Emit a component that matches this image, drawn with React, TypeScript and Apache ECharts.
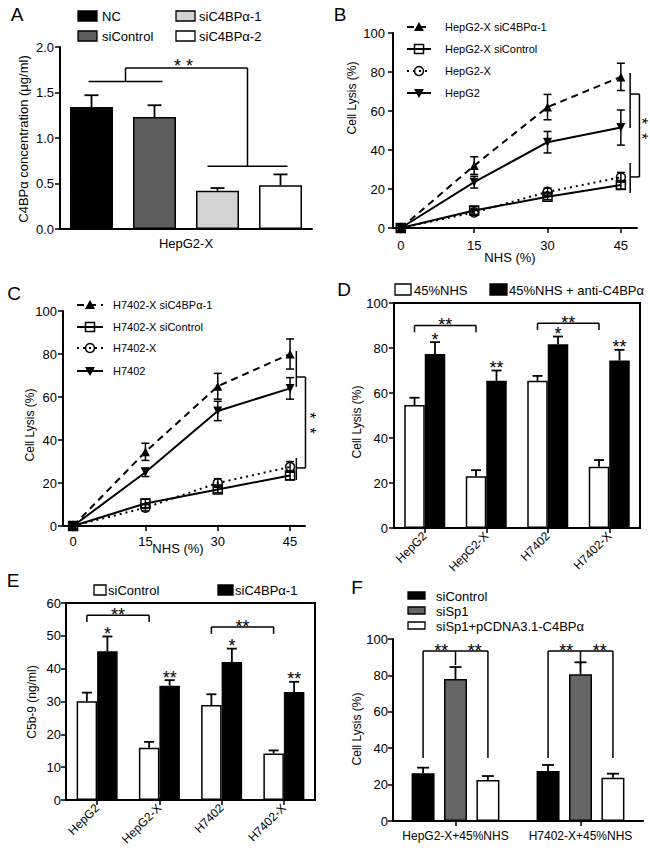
import React, { useEffect, useRef } from "react";
import * as echarts from "echarts";

const FONT = "'Liberation Sans', Arial, Helvetica, sans-serif";

// ---------- Panel A ----------
const aCategories = ["HepG2-X"];
const aSeriesNames = ["NC", "siControl", "siC4BPα-1", "siC4BPα-2"];
const aMeans = [1.34, 1.23, 0.42, 0.48];
const aErrors = [0.13, 0.13, 0.03, 0.12];
const aColors = ["#000000", "#5e5e5e", "#d3d3d3", "#ffffff"];

// ---------- Panels B and C (x = NHS %) ----------
const nhsLevels = [0, 15, 30, 45];

const bNames = ["HepG2-X siC4BPα-1", "HepG2-X siControl", "HepG2-X", "HepG2"];
const bSiC4BP = [0, 32, 62, 77.5];
const bSiC4BPErr = [0, 4.5, 6.5, 7];
const bSiControl = [0, 9, 16, 22];
const bSiControlErr = [0, 2, 1.5, 2];
const bX = [0, 8, 18.5, 26];
const bXErr = [0, 1.5, 2, 2.5];
const bParent = [0, 23.5, 44, 51.5];
const bParentErr = [0, 3, 5.5, 9];

const cNames = ["H7402-X siC4BPα-1", "H7402-X siControl", "H7402-X", "H7402"];
const cSiC4BP = [0, 34.5, 65, 80];
const cSiC4BPErr = [0, 4, 6, 7];
const cSiControl = [0, 10.5, 17, 23.5];
const cSiControlErr = [0, 2, 1.5, 2];
const cX = [0, 8.5, 20, 27.5];
const cXErr = [0, 1.5, 2, 2.5];
const cParent = [0, 25, 53.5, 64];
const cParentErr = [0, 2, 4.5, 5];

// ---------- Panel D ----------
const cellLines = ["HepG2", "HepG2-X", "H7402", "H7402-X"];
const dNames = ["45%NHS", "45%NHS + anti-C4BPα"];
const dNHS = [54.7, 23, 65.4, 27.2];
const dNHSErr = [3.2, 2.7, 2.2, 3];
const dAnti = [77.3, 65.4, 81.7, 74.4];
const dAntiErr = [5.3, 4.6, 3.4, 4.8];
const dSig = ["*", "**", "*", "**"];

// ---------- Panel E ----------
const eNames = ["siControl", "siC4BPα-1"];
const eSiControl = [30.1, 15.9, 28.9, 14.2];
const eSiControlErr = [2.6, 1.8, 3.3, 0.9];
const eSiC4BP = [45.3, 34.8, 42, 32.9];
const eSiC4BPErr = [4.5, 1.7, 4.1, 3.1];
const eSig = ["*", "**", "*", "**"];

// ---------- Panel F ----------
const fCategories = ["HepG2-X+45%NHS", "H7402-X+45%NHS"];
const fNames = ["siControl", "siSp1", "siSp1+pCDNA3.1-C4BPα"];
const fSiControl = [26.2, 27.5];
const fSiControlErr = [3.1, 3.3];
const fSiSp1 = [78, 80.6];
const fSiSp1Err = [6.6, 6.6];
const fRescue = [22.5, 23.8];
const fRescueErr = [2.2, 2.2];
const fColors = ["#000000", "#666666", "#ffffff"];

// ---------- helpers ----------
function barOffsets(n: number, width: number, gap: number): number[] {
  const pitch = width * (1 + gap);
  return Array.from({ length: n }, (_, i) => (i - (n - 1) / 2) * pitch);
}

function errorSeries(gi: number, xs: number[], means: number[], errs: number[], offset: number, cap: number, both: boolean, lw: number) {
  const data = means.map((m, i) => [xs[i], m, errs[i]]).filter((d) => d[2] > 0);
  return {
    type: "custom",
    xAxisIndex: gi,
    yAxisIndex: gi,
    z: 6,
    silent: true,
    data,
    encode: { x: 0, y: 1 },
    renderItem: (_params: any, api: any) => {
      const x = api.value(0);
      const y = api.value(1);
      const e = api.value(2);
      const top = api.coord([x, y + e]);
      const bot = api.coord([x, both ? y - e : y]);
      const cx = top[0] + offset;
      const st = { stroke: "#000", lineWidth: lw };
      const children: any[] = [
        { type: "line", shape: { x1: cx, y1: top[1], x2: cx, y2: bot[1] }, style: st },
        { type: "line", shape: { x1: cx - cap / 2, y1: top[1], x2: cx + cap / 2, y2: top[1] }, style: st },
      ];
      if (both) children.push({ type: "line", shape: { x1: cx - cap / 2, y1: bot[1], x2: cx + cap / 2, y2: bot[1] }, style: st });
      return { type: "group", children };
    },
  };
}

type Kind = { symbol: string; rotate: number; fill: string; dash: any };
const KIND_SI: Kind = { symbol: "triangle", rotate: 0, fill: "#000", dash: [7, 5] };
const KIND_CTRL: Kind = { symbol: "rect", rotate: 0, fill: "none", dash: "solid" };
const KIND_X: Kind = { symbol: "circle", rotate: 0, fill: "none", dash: [2, 4] };
const KIND_PAR: Kind = { symbol: "triangle", rotate: 180, fill: "#000", dash: "solid" };

function lineSeries(gi: number, name: string, ys: number[], k: Kind) {
  return {
    type: "line",
    name,
    xAxisIndex: gi,
    yAxisIndex: gi,
    data: nhsLevels.map((x, i) => [x, ys[i]]),
    symbol: k.symbol,
    symbolSize: 9,
    symbolRotate: k.rotate,
    showSymbol: true,
    silent: true,
    z: 4,
    itemStyle: {
      color: k.fill === "none" ? "rgba(255,255,255,0)" : "#000",
      borderColor: "#000",
      borderWidth: k.fill === "none" ? 1.5 : 0,
    },
    lineStyle: { color: "#000", width: 2, type: k.dash },
  };
}

function barSeries(gi: number, name: string, vals: number[], color: string, width: number, gap: string) {
  return {
    type: "bar",
    name,
    xAxisIndex: gi,
    yAxisIndex: gi,
    data: vals,
    barWidth: width,
    barGap: gap,
    silent: true,
    z: 3,
    itemStyle: { color, borderColor: "#000", borderWidth: 1.5 },
  };
}

const axisLine = { show: true, onZero: false, lineStyle: { color: "#000", width: 2 } };
const tick = (extra: any = {}) => ({ show: true, length: 5, lineStyle: { color: "#000", width: 1.5 }, ...extra });
const lab = (fs: number, extra: any = {}) => ({ color: "#000", fontSize: fs, fontFamily: FONT, ...extra });

function yAxis(gi: number, max: number, interval: number, margin: number, fmt?: (v: number) => string) {
  return {
    type: "value",
    gridIndex: gi,
    min: 0,
    max,
    interval,
    splitLine: { show: false },
    axisLine,
    axisTick: tick(),
    axisLabel: lab(13, { margin, formatter: fmt }),
  };
}

export default function App() {
  const ref = useRef<HTMLDivElement>(null);

  useEffect(() => {
    if (!ref.current) return;
    const chart = echarts.init(ref.current, undefined, { renderer: "svg" });

    const aOff = barOffsets(4, 43, 0.465);
    const dOff = barOffsets(2, 20.5, 0);
    const fOff = barOffsets(3, 23, 0.41);
    const catIdx4 = [0, 1, 2, 3];
    const catIdx2 = [0, 1];

    const option: any = {
      animation: false,
      backgroundColor: "#ffffff",
      textStyle: { fontFamily: FONT },
      grid: [
        { left: 60, top: 47, width: 252, height: 182 },
        { left: 393, top: 33, width: 244, height: 195 },
        { left: 63, top: 311, width: 242, height: 215 },
        { left: 394, top: 303, width: 246, height: 225, show: true, borderColor: "#000", borderWidth: 2 },
        { left: 66, top: 603, width: 249, height: 197, show: true, borderColor: "#000", borderWidth: 2 },
        { left: 393, top: 639, width: 250, height: 182 },
      ],
      xAxis: [
        { type: "category", gridIndex: 0, data: aCategories, axisLine, axisTick: { show: false }, axisLabel: lab(13, { margin: 8 }) },
        {
          type: "value", gridIndex: 1, min: -1.6, max: 48.3, splitLine: { show: false }, axisLine,
          axisTick: tick({ customValues: nhsLevels }), axisLabel: lab(13, { margin: 11, customValues: nhsLevels }),
        },
        {
          type: "value", gridIndex: 2, min: -2.1, max: 48.1, splitLine: { show: false }, axisLine,
          axisTick: tick({ customValues: nhsLevels }), axisLabel: lab(13, { margin: 9, customValues: nhsLevels }),
        },
        { type: "category", gridIndex: 3, data: cellLines, axisLine, axisTick: tick({ alignWithLabel: true }), axisLabel: lab(12, { rotate: 45, margin: 6, interval: 0 }) },
        { type: "category", gridIndex: 4, data: cellLines, axisLine, axisTick: tick({ alignWithLabel: true }), axisLabel: lab(12, { rotate: 45, margin: 6, interval: 0 }) },
        { type: "category", gridIndex: 5, data: fCategories, axisLine, axisTick: tick({ alignWithLabel: true }), axisLabel: lab(12, { margin: 9, interval: 0 }) },
      ],
      yAxis: [
        yAxis(0, 2, 0.5, 6, (v: number) => v.toFixed(1)),
        yAxis(1, 100, 20, 8),
        yAxis(2, 100, 20, 6),
        yAxis(3, 100, 20, 6),
        yAxis(4, 60, 10, 5),
        yAxis(5, 100, 20, 5),
      ],
      series: [
        // A
        ...aSeriesNames.map((n, i) => barSeries(0, n, [aMeans[i]], aColors[i], 43, "46.5%")),
        ...aSeriesNames.map((_, i) => errorSeries(0, [0], [aMeans[i]], [aErrors[i]], aOff[i], 14, false, 1.8)),
        // B
        lineSeries(1, bNames[0], bSiC4BP, KIND_SI),
        lineSeries(1, bNames[1], bSiControl, KIND_CTRL),
        lineSeries(1, bNames[2], bX, KIND_X),
        lineSeries(1, bNames[3], bParent, KIND_PAR),
        errorSeries(1, nhsLevels, bSiC4BP, bSiC4BPErr, 0, 8, true, 1.5),
        errorSeries(1, nhsLevels, bSiControl, bSiControlErr, 0, 8, true, 1.5),
        errorSeries(1, nhsLevels, bX, bXErr, 0, 8, true, 1.5),
        errorSeries(1, nhsLevels, bParent, bParentErr, 0, 8, true, 1.5),
        // C
        lineSeries(2, cNames[0], cSiC4BP, KIND_SI),
        lineSeries(2, cNames[1], cSiControl, KIND_CTRL),
        lineSeries(2, cNames[2], cX, KIND_X),
        lineSeries(2, cNames[3], cParent, KIND_PAR),
        errorSeries(2, nhsLevels, cSiC4BP, cSiC4BPErr, 0, 8, true, 1.5),
        errorSeries(2, nhsLevels, cSiControl, cSiControlErr, 0, 8, true, 1.5),
        errorSeries(2, nhsLevels, cX, cXErr, 0, 8, true, 1.5),
        errorSeries(2, nhsLevels, cParent, cParentErr, 0, 8, true, 1.5),
        // D
        barSeries(3, dNames[0], dNHS, "#ffffff", 20.5, "0%"),
        barSeries(3, dNames[1], dAnti, "#000000", 20.5, "0%"),
        errorSeries(3, catIdx4, dNHS, dNHSErr, dOff[0], 10, false, 1.8),
        errorSeries(3, catIdx4, dAnti, dAntiErr, dOff[1], 10, false, 1.8),
        // E
        barSeries(4, eNames[0], eSiControl, "#ffffff", 20.5, "0%"),
        barSeries(4, eNames[1], eSiC4BP, "#000000", 20.5, "0%"),
        errorSeries(4, catIdx4, eSiControl, eSiControlErr, dOff[0], 10, false, 1.8),
        errorSeries(4, catIdx4, eSiC4BP, eSiC4BPErr, dOff[1], 10, false, 1.8),
        // F
        barSeries(5, fNames[0], fSiControl, fColors[0], 23, "41%"),
        barSeries(5, fNames[1], fSiSp1, fColors[1], 23, "41%"),
        barSeries(5, fNames[2], fRescue, fColors[2], 23, "41%"),
        errorSeries(5, catIdx2, fSiControl, fSiControlErr, fOff[0], 12, false, 1.8),
        errorSeries(5, catIdx2, fSiSp1, fSiSp1Err, fOff[1], 12, false, 1.8),
        errorSeries(5, catIdx2, fRescue, fRescueErr, fOff[2], 12, false, 1.8),
      ],
    };

    chart.setOption(option);

    // ---------- overlay: legends, titles, annotations ----------
    const g: any[] = [];
    const P = (gi: number, x: number, y: number): number[] => chart.convertToPixel({ gridIndex: gi } as any, [x, y]) as any;
    const line = (x1: number, y1: number, x2: number, y2: number, w = 1.5, dash: any = null) =>
      g.push({ type: "line", silent: true, z: 10, shape: { x1, y1, x2, y2 }, style: { stroke: "#000", lineWidth: w, lineDash: dash } });
    const text = (s: string, x: number, y: number, fs: number, opts: any = {}) =>
      g.push({
        type: "text", silent: true, z: 10, x, y, rotation: opts.rotation || 0,
        style: { text: s, fill: "#000", fontSize: fs, fontFamily: FONT, align: opts.align || "center", verticalAlign: "middle" },
      });
    const rect = (x: number, y: number, w: number, h: number, fill: string) =>
      g.push({ type: "rect", silent: true, z: 10, shape: { x, y, width: w, height: h }, style: { fill, stroke: "#000", lineWidth: 1.3 } });
    const STAR = 18;
    const star = (s: string, x: number, yc: number) => text(s, x, yc + 0.225 * STAR, STAR);
    // two asterisks reading downwards (rotated text); glyphs sit right of the anchor after rotation
    const VSTAR = 16;
    const starsDown = (xc: number, yc: number) => text("*  *", xc - 0.225 * VSTAR, yc, VSTAR, { rotation: -Math.PI / 2 });
    const legendSym = (x1: number, x2: number, y: number, k: Kind) => {
      line(x1, y, x2, y, 2, k.dash === "solid" ? null : k.dash);
      const cx = (x1 + x2) / 2;
      if (k.symbol === "triangle" && k.rotate === 0)
        g.push({ type: "polygon", silent: true, z: 11, shape: { points: [[cx, y - 5], [cx + 5, y + 4], [cx - 5, y + 4]] }, style: { fill: "#000" } });
      else if (k.symbol === "triangle")
        g.push({ type: "polygon", silent: true, z: 11, shape: { points: [[cx - 5, y - 4], [cx + 5, y - 4], [cx, y + 5]] }, style: { fill: "#000" } });
      else if (k.symbol === "rect")
        g.push({ type: "rect", silent: true, z: 11, shape: { x: cx - 4.5, y: y - 4.5, width: 9, height: 9 }, style: { fill: "none", stroke: "#000", lineWidth: 1.5 } });
      else
        g.push({ type: "circle", silent: true, z: 11, shape: { cx, cy: y, r: 4.5 }, style: { fill: "none", stroke: "#000", lineWidth: 1.5 } });
    };
    const rot = { rotation: Math.PI / 2 };

    // panel letters
    text("A", 17, 14, 19);
    text("B", 340, 14, 19);
    text("C", 14, 293, 19);
    text("D", 344, 289, 19);
    text("E", 13, 580, 19);
    text("F", 357, 587, 19);

    // axis titles
    text("C4BPα concentration (μg/ml)", 23, 139, 13, rot);
    text("Cell Lysis (%)", 352, 98, 12, rot);
    text("NHS (%)", 510, 257, 13);
    text("Cell Lysis (%)", 30, 425, 12, rot);
    text("NHS (%)", 178, 548, 13);
    text("Cell Lysis (%)", 357, 422, 12, rot);
    text("C5b-9 (ng/ml)", 32, 702, 12, rot);
    text("Cell Lysis (%)", 357, 729, 12, rot);

    // legends A
    rect(78, 11, 19, 10, aColors[0]);
    text(aSeriesNames[0], 102, 16, 13, { align: "left" });
    rect(78, 31, 19, 10, aColors[1]);
    text(aSeriesNames[1], 102, 36, 13, { align: "left" });
    rect(176, 11, 19, 10, aColors[2]);
    text(aSeriesNames[2], 199, 16, 13, { align: "left" });
    rect(176, 31, 19, 10, aColors[3]);
    text(aSeriesNames[3], 199, 36, 13, { align: "left" });

    // legends B / C
    const kinds = [KIND_SI, KIND_CTRL, KIND_X, KIND_PAR];
    const bRows = [27, 49, 71, 93];
    const cRows = [305, 327, 348, 371];
    kinds.forEach((k, i) => {
      legendSym(407, 431, bRows[i], k);
      text(bNames[i], 445, bRows[i], 11, { align: "left" });
      legendSym(77, 103, cRows[i], k);
      text(cNames[i], 113, cRows[i], 11, { align: "left" });
    });

    // legend D
    rect(395, 284, 16, 11, "#ffffff");
    text(dNames[0], 414, 290, 13, { align: "left" });
    rect(490, 284, 17, 11, "#000000");
    text(dNames[1], 509, 290, 13, { align: "left" });

    // legend E
    rect(94, 585, 12, 10, "#ffffff");
    text(eNames[0], 108, 590, 13, { align: "left" });
    rect(218, 585, 15, 10, "#000000");
    text(eNames[1], 235, 590, 13, { align: "left" });

    // legend F
    [596, 611, 626].forEach((y, i) => {
      rect(408, y - 4, 17, 7, fColors[i]);
      text(fNames[i], 436, y, 13, { align: "left" });
    });

    // ---- annotations A ----
    {
      const c0 = P(0, 0, 0)[0];
      const bc = aOff.map((o) => c0 + o);
      const yL = P(0, 0, 1.62)[1], yT = P(0, 0, 1.77)[1], yR = P(0, 0, 0.69)[1];
      const L1 = bc[0] - 3, L2 = bc[1] + 8, R1 = bc[2] - 10, R2 = bc[3] + 7;
      const mL = (L1 + L2) / 2, mR = (R1 + R2) / 2;
      line(L1, yL, L2, yL);
      line(mL, yL, mL, yT);
      line(mL, yT, mR, yT);
      line(mR, yT, mR, yR);
      line(R1, yR, R2, yR);
      star("* *", (mL + mR) / 2 - 3, yT - 6);
    }

    // ---- annotations B ----
    {
      const y = (v: number) => P(1, 0, v)[1];
      const x1 = P(1, 46.9, 0)[0], x2 = P(1, 48.8, 0)[0];
      line(x1, y(79.5), x1, y(51.3));
      line(x1, y(33.3), x1, y(17.9));
      const y1 = y(68.7), y2 = y(26.2);
      line(x1, y1, x2, y1);
      line(x2, y1, x2, y2);
      line(x1, y2, x2, y2);
      const mid = (y1 + y2) / 2;
      starsDown(645.5, mid - 7);
    }

    // ---- annotations C ----
    {
      const y = (v: number) => P(2, 0, v)[1];
      const x1 = P(2, 46.3, 0)[0], x2 = P(2, 48.2, 0)[0];
      line(x1, y(81.4), x1, y(64.7));
      line(x1, y(31.6), x1, y(21.4));
      const y1 = y(69.3), y2 = y(27);
      line(x1, y1, x2, y1);
      line(x2, y1, x2, y2);
      line(x1, y2, x2, y2);
      const mid = (y1 + y2) / 2;
      starsDown(P(2, 49.7, 0)[0], mid + 0.5);
    }

    // ---- annotations D / E ----
    const pairBrackets = (gi: number, brackets: number[][], means: number[], errs: number[], sig: string[]) => {
      const cc = cellLines.map((_, i) => P(gi, i, 0)[0]);
      brackets.forEach(([a, b, yv, yd]) => {
        const x1 = cc[a] + dOff[0], x2 = cc[b] + dOff[0];
        const yy = P(gi, 0, yv)[1], ydd = P(gi, 0, yd)[1];
        line(x1, ydd, x1, yy);
        line(x1, yy, x2, yy);
        line(x2, yy, x2, ydd);
        star("**", (x1 + x2) / 2, yy - 4.5);
      });
      sig.forEach((s, i) => star(s, cc[i] + dOff[1], P(gi, i, means[i] + errs[i])[1] - 6.5));
    };
    pairBrackets(3, [[0, 1, 90, 87], [2, 3, 91, 88]], dAnti, dAntiErr, dSig);
    pairBrackets(4, [[0, 1, 56.3, 54.2], [2, 3, 52.7, 50.6]], eSiC4BP, eSiC4BPErr, eSig);

    // ---- annotations F ----
    fCategories.forEach((_, c) => {
      const cc = P(5, c, 0)[0];
      const xb = cc + fOff[0], xg = cc + fOff[1], xw = cc + fOff[2];
      const yTop = P(5, c, 93.4)[1], yLow = P(5, c, 34.6)[1], yMid = P(5, c, 85.7)[1];
      line(xb, yLow, xb, yTop);
      line(xb, yTop, xw, yTop);
      line(xg, yTop, xg, yMid);
      line(xw, yTop, xw, yLow);
      star("**", (xb + xg) / 2 + 2, yTop - 4);
      star("**", (xg + xw) / 2 + 3, yTop - 4);
    });

    chart.setOption({ graphic: { elements: g } });

    return () => chart.dispose();
  }, []);

  return <div ref={ref} style={{ position: "absolute", left: 0, top: 0, width: 650, height: 855 }} />;
}
